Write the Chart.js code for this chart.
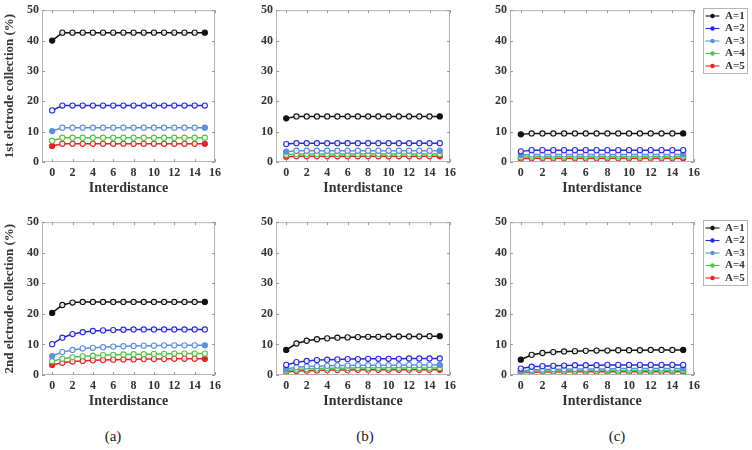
<!DOCTYPE html>
<html>
<head>
<meta charset="utf-8">
<script src="https://cdn.jsdelivr.net/npm/chart.js@4.4.1/dist/chart.umd.min.js"></script>
<style>
  html, body { margin: 0; padding: 0; background: #fff; }
  #page { position: relative; width: 752px; height: 450px; overflow: hidden; }
  .panel { position: absolute; }
  .tag { position: absolute; top: 428px; font: 15px 'Liberation Serif', serif; color: #222; transform: translateX(-50%); }
</style>
</head>
<body>
<div id="page">
  <div class="panel" style="left:0px;top:0px"><canvas id="first_a" width="225" height="197"></canvas></div>
  <div class="panel" style="left:250px;top:0px"><canvas id="first_b" width="210" height="197"></canvas></div>
  <div class="panel" style="left:484px;top:0px"><canvas id="first_c" width="264" height="197"></canvas></div>
  <div class="panel" style="left:0px;top:212px"><canvas id="second_a" width="225" height="198"></canvas></div>
  <div class="panel" style="left:250px;top:212px"><canvas id="second_b" width="210" height="198"></canvas></div>
  <div class="panel" style="left:484px;top:212px"><canvas id="second_c" width="264" height="198"></canvas></div>
  <div class="tag" style="left:113px">(a)</div>
  <div class="tag" style="left:365px">(b)</div>
  <div class="tag" style="left:617px">(c)</div>
</div>
<script>
(function () {
	'use strict';

	// shared axes / series info
	const interdistance = [0, 1, 2, 3, 4, 5, 6, 7, 8, 9, 10, 11, 12, 13, 14, 15];
	const xTicks = [0, 2, 4, 6, 8, 10, 12, 14, 16];
	const yTicks = [0, 10, 20, 30, 40, 50];
	const seriesNames = ['A=1', 'A=2', 'A=3', 'A=4', 'A=5'];
	const seriesColors = ['#111111', '#2a2ad6', '#5f8fd8', '#56c24a', '#e02626'];
	const endFilled = [true, false, true, false, true];

	// 1st electrode collection (%), rows = A=1..5
	const first_a = [
		[40.0, 42.6, 42.6, 42.6, 42.6, 42.6, 42.6, 42.6, 42.6, 42.6, 42.6, 42.6, 42.6, 42.6, 42.6, 42.6],
		[17.0, 18.6, 18.6, 18.6, 18.6, 18.6, 18.6, 18.6, 18.6, 18.6, 18.6, 18.6, 18.6, 18.6, 18.6, 18.6],
		[10.2, 11.3, 11.3, 11.3, 11.3, 11.3, 11.3, 11.3, 11.3, 11.3, 11.3, 11.3, 11.3, 11.3, 11.3, 11.3],
		[7.0, 8.0, 8.0, 8.0, 8.0, 8.0, 8.0, 8.0, 8.0, 8.0, 8.0, 8.0, 8.0, 8.0, 8.0, 8.0],
		[5.3, 6.0, 6.0, 6.0, 6.0, 6.0, 6.0, 6.0, 6.0, 6.0, 6.0, 6.0, 6.0, 6.0, 6.0, 6.0]
	];
	const first_b = [
		[14.4, 15.0, 15.0, 15.0, 15.0, 15.0, 15.0, 15.0, 15.0, 15.0, 15.0, 15.0, 15.0, 15.0, 15.0, 15.0],
		[5.9, 6.2, 6.2, 6.2, 6.2, 6.2, 6.2, 6.2, 6.2, 6.2, 6.2, 6.2, 6.2, 6.2, 6.2, 6.2],
		[3.4, 3.7, 3.7, 3.7, 3.7, 3.7, 3.7, 3.7, 3.7, 3.7, 3.7, 3.7, 3.7, 3.7, 3.7, 3.7],
		[2.4, 2.6, 2.6, 2.6, 2.6, 2.6, 2.6, 2.6, 2.6, 2.6, 2.6, 2.6, 2.6, 2.6, 2.6, 2.6],
		[1.7, 1.9, 1.9, 1.9, 1.9, 1.9, 1.9, 1.9, 1.9, 1.9, 1.9, 1.9, 1.9, 1.9, 1.9, 1.9]
	];
	const first_c = [
		[9.1, 9.4, 9.4, 9.4, 9.4, 9.4, 9.4, 9.4, 9.4, 9.4, 9.4, 9.4, 9.4, 9.4, 9.4, 9.4],
		[3.5, 3.9, 3.9, 3.9, 3.9, 3.9, 3.9, 3.9, 3.9, 3.9, 3.9, 3.9, 3.9, 3.9, 3.9, 3.9],
		[2.3, 2.5, 2.5, 2.5, 2.5, 2.5, 2.5, 2.5, 2.5, 2.5, 2.5, 2.5, 2.5, 2.5, 2.5, 2.5],
		[1.6, 1.8, 1.8, 1.8, 1.8, 1.8, 1.8, 1.8, 1.8, 1.8, 1.8, 1.8, 1.8, 1.8, 1.8, 1.8],
		[1.1, 1.2, 1.2, 1.2, 1.2, 1.2, 1.2, 1.2, 1.2, 1.2, 1.2, 1.2, 1.2, 1.2, 1.2, 1.2]
	];

	// 2nd electrode collection (%)
	const second_a = [
		[20.3, 22.9, 23.7, 23.9, 23.9, 23.9, 23.9, 23.9, 23.9, 23.9, 23.9, 23.9, 23.9, 23.9, 23.9, 23.9],
		[10.1, 12.2, 13.4, 14.0, 14.4, 14.6, 14.7, 14.8, 14.9, 14.9, 14.9, 14.9, 14.9, 14.9, 14.9, 14.9],
		[6.2, 7.5, 8.2, 8.7, 8.9, 9.1, 9.3, 9.4, 9.5, 9.6, 9.6, 9.7, 9.7, 9.7, 9.7, 9.7],
		[4.5, 5.3, 5.8, 6.1, 6.3, 6.5, 6.6, 6.7, 6.8, 6.8, 6.9, 6.9, 7.0, 7.0, 7.0, 7.0],
		[3.3, 4.0, 4.4, 4.6, 4.8, 4.9, 5.0, 5.1, 5.1, 5.2, 5.2, 5.2, 5.3, 5.3, 5.3, 5.3]
	];
	const second_b = [
		[8.2, 10.3, 11.2, 11.7, 12.0, 12.2, 12.3, 12.4, 12.5, 12.5, 12.6, 12.6, 12.6, 12.6, 12.7, 12.7],
		[3.3, 4.2, 4.6, 4.9, 5.0, 5.1, 5.2, 5.2, 5.3, 5.3, 5.3, 5.3, 5.4, 5.4, 5.4, 5.4],
		[2.0, 2.5, 2.8, 2.9, 3.0, 3.1, 3.1, 3.2, 3.2, 3.2, 3.2, 3.2, 3.3, 3.3, 3.3, 3.3],
		[1.4, 1.8, 2.0, 2.1, 2.2, 2.2, 2.3, 2.3, 2.3, 2.3, 2.3, 2.3, 2.3, 2.3, 2.3, 2.3],
		[1.0, 1.3, 1.4, 1.5, 1.6, 1.6, 1.6, 1.7, 1.7, 1.7, 1.7, 1.7, 1.7, 1.7, 1.7, 1.7]
	];
	const second_c = [
		[5.0, 6.6, 7.2, 7.5, 7.7, 7.8, 7.9, 8.0, 8.0, 8.1, 8.1, 8.1, 8.2, 8.2, 8.2, 8.2],
		[2.1, 2.7, 2.9, 3.0, 3.1, 3.2, 3.2, 3.2, 3.3, 3.3, 3.3, 3.3, 3.3, 3.3, 3.3, 3.3],
		[1.3, 1.6, 1.8, 1.9, 1.9, 2.0, 2.0, 2.0, 2.0, 2.1, 2.1, 2.1, 2.1, 2.1, 2.1, 2.1],
		[0.9, 1.2, 1.3, 1.4, 1.4, 1.4, 1.5, 1.5, 1.5, 1.5, 1.5, 1.5, 1.5, 1.5, 1.5, 1.5],
		[0.7, 0.9, 1.0, 1.0, 1.1, 1.1, 1.1, 1.1, 1.1, 1.1, 1.1, 1.1, 1.1, 1.1, 1.1, 1.1]
	];

	const serif = "'Liberation Serif', 'Times New Roman', serif";
	const textColor = '#333';

	// box frame, inward ticks on all sides, legend border + markers
	const framePlugin = {
		id: 'frame',
		afterDraw(chart) {
			const ctx = chart.ctx;
			const a = chart.chartArea;
			const x = chart.scales.x;
			const y = chart.scales.y;
			ctx.save();
			ctx.lineWidth = 1;
			ctx.strokeStyle = '#b4b4b4';
			ctx.strokeRect(a.left + 0.5, a.top + 0.5, a.width - 1, a.height - 1);
			ctx.strokeStyle = '#999';
			ctx.beginPath();
			x.ticks.forEach(t => {
				const px = Math.round(x.getPixelForValue(t.value)) + 0.5;
				ctx.moveTo(px, a.bottom); ctx.lineTo(px, a.bottom - 3);
				ctx.moveTo(px, a.top); ctx.lineTo(px, a.top + 3);
			});
			y.ticks.forEach(t => {
				const py = Math.round(y.getPixelForValue(t.value)) + 0.5;
				ctx.moveTo(a.left, py); ctx.lineTo(a.left + 3, py);
				ctx.moveTo(a.right, py); ctx.lineTo(a.right - 3, py);
			});
			ctx.stroke();

			const legend = chart.legend;
			if (chart.options.plugins.legend.display && legend && legend.legendHitBoxes.length) {
				const boxes = legend.legendHitBoxes;
				const fs = chart.options.plugins.legend.labels.font.size;
				const bw = chart.options.plugins.legend.labels.pointStyleWidth;
				let l = Infinity, t = Infinity, r = -Infinity, b = -Infinity;
				boxes.forEach((h, i) => {
					l = Math.min(l, h.left); t = Math.min(t, h.top);
					r = Math.max(r, h.left + h.width); b = Math.max(b, h.top + h.height);
					ctx.beginPath();
					ctx.arc(h.left + bw / 2, h.top + fs / 2, 2.2, 0, Math.PI * 2);
					ctx.fillStyle = seriesColors[i];
					ctx.fill();
				});
				ctx.strokeStyle = '#b4b4b4';
				ctx.strokeRect(Math.round(l - 3) + 0.5, Math.round(t - 3) + 0.5, Math.round(r - l + 5), Math.round(b - t + 4));
			}
			ctx.restore();
		}
	};

	function buildDatasets(rows) {
		return rows.map((vals, i) => ({
			label: seriesNames[i],
			data: interdistance.map((d, j) => ({ x: d, y: vals[j] })),
			borderColor: seriesColors[i],
			backgroundColor: seriesColors[i],
			borderWidth: 1.5,
			pointRadius: 2.6,
			pointBorderWidth: 1.1,
			pointBorderColor: seriesColors[i],
			pointBackgroundColor: ctx => (endFilled[i] && (ctx.dataIndex === 0 || ctx.dataIndex === interdistance.length - 1)) ? seriesColors[i] : 'rgba(255,255,255,0.85)',
			tension: 0
		}));
	}

	function createPanel(canvasId, rows, cfg) {
		const canvas = document.getElementById(canvasId);
		const scales = {
			x: {
				type: 'linear',
				min: -1,
				max: 16,
				afterBuildTicks: s => { s.ticks = xTicks.map(v => ({ value: v })); },
				afterFit: s => { s.height = 35; },
				grid: { display: false, drawTicks: false },
				border: { display: false },
				ticks: { color: textColor, padding: 4, maxRotation: 0, font: { family: serif, size: 12, weight: 'bold' } },
				title: { display: true, text: 'Interdistance', color: textColor, padding: { top: 0, bottom: 0 }, font: { family: serif, size: 14, weight: 'bold' } }
			},
			y: {
				min: 0,
				max: 50,
				afterBuildTicks: s => { s.ticks = yTicks.map(v => ({ value: v })); },
				afterFit: s => { s.width = cfg.yWidth; },
				grid: { display: false, drawTicks: false },
				border: { display: false },
				ticks: { color: textColor, padding: 3, font: { family: serif, size: 12, weight: 'bold' } },
				title: {
					display: !!cfg.yTitle,
					text: cfg.yTitle || '',
					color: textColor,
					padding: { top: 2, bottom: 0 },
					font: { family: serif, size: 13, weight: 'bold' }
				}
			}
		};
		if (cfg.legend) {
			// empty spacer between plot box and legend
			scales.gap = {
				type: 'linear',
				position: 'right',
				display: true,
				grid: { display: false, drawTicks: false },
				border: { display: false },
				ticks: { display: false },
				afterFit: s => { s.width = 10; }
			};
		}
		return new Chart(canvas, {
			type: 'line',
			data: { datasets: buildDatasets(rows) },
			options: {
				responsive: false,
				animation: false,
				events: [],
				layout: { padding: { top: 9, right: cfg.legend ? 0 : 5, bottom: 0, left: 0 } },
				plugins: {
					legend: {
						display: !!cfg.legend,
						position: 'right',
						align: 'start',
						labels: {
							usePointStyle: true,
							pointStyle: 'line',
							pointStyleWidth: 14,
							color: textColor,
							padding: 1.5,
							font: { family: serif, size: 11, weight: 'bold' }
						}
					},
					tooltip: { enabled: false }
				},
				scales: scales
			},
			plugins: [framePlugin]
		});
	}

	createPanel('first_a', first_a, { yWidth: 42, yTitle: '1st elctrode collection (%)' });
	createPanel('first_b', first_b, { yWidth: 26 });
	createPanel('first_c', first_c, { yWidth: 26, legend: true });
	createPanel('second_a', second_a, { yWidth: 42, yTitle: '2nd elctrode collection (%)' });
	createPanel('second_b', second_b, { yWidth: 26 });
	createPanel('second_c', second_c, { yWidth: 26, legend: true });
})();
</script>
</body>
</html>
